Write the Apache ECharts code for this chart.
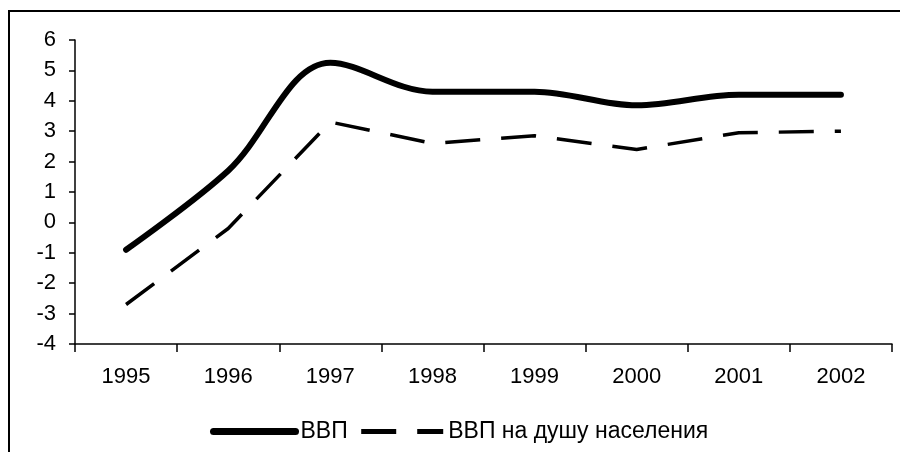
<!DOCTYPE html>
<html>
<head>
<meta charset="utf-8">
<script src="https://cdn.jsdelivr.net/npm/echarts@6/dist/echarts.min.js"></script>
<style>
  html, body { margin: 0; padding: 0; background: #fff; }
  #chart { width: 900px; height: 452px; }
</style>
</head>
<body>
<div id="chart"></div>
<script>
// годы
const years = ['1995', '1996', '1997', '1998', '1999', '2000', '2001', '2002'];
// ВВП, % к предыдущему году
const gdp = [-0.9, 1.7, 5.25, 4.3, 4.3, 3.85, 4.2, 4.2];
// ВВП на душу населения
const gdpPerCapita = [-2.7, -0.2, 3.3, 2.6, 2.85, 2.4, 2.95, 3.0];

const names = ['ВВП', 'ВВП на душу населения'];
const font = 'Liberation Sans, Arial, sans-serif';
const dash = [35, 21];

let myChart = echarts.init(document.getElementById('chart'));

let option = {
    animation: false,
    backgroundColor: '#fff',
    graphic: [{
        type: 'rect',
        shape: { x: 9, y: 11, width: 920, height: 500 },
        style: { fill: 'none', stroke: '#000', lineWidth: 2 }
    }],
    grid: {
        left: 75,
        right: 8,
        top: 40,
        bottom: 108
    },
    legend: {
        left: 205,
        top: 415,
        itemWidth: 82,
        itemHeight: 20,
        itemGap: 11,
        itemStyle: { opacity: 0 },
        textStyle: { fontFamily: font, fontSize: 23, color: '#000' },
        data: [{
            name: names[0],
            lineStyle: { color: '#000', width: 7, cap: 'round' }
        }, {
            name: names[1],
            lineStyle: { color: '#000', width: 5, type: dash }
        }]
    },
    xAxis: {
        type: 'category',
        data: years,
        boundaryGap: true,
        axisLine: { onZero: false, lineStyle: { color: '#000', width: 1.5 } },
        axisTick: { show: true, length: 8, lineStyle: { color: '#000', width: 1.5 } },
        axisLabel: { color: '#000', fontFamily: font, fontSize: 22, margin: 22 },
        splitLine: { show: false }
    },
    yAxis: {
        type: 'value',
        min: -4,
        max: 6,
        interval: 1,
        axisLine: { show: true, lineStyle: { color: '#000', width: 1.5 } },
        axisTick: { show: true, length: 6, lineStyle: { color: '#000', width: 1.5 } },
        axisLabel: { color: '#000', fontFamily: font, fontSize: 22, margin: 19 },
        splitLine: { show: false }
    },
    series: [{
        name: names[0],
        type: 'line',
        data: gdp,
        smooth: 0.35,
        symbol: 'none',
        lineStyle: { color: '#000', width: 6, cap: 'round' },
        itemStyle: { color: '#000' }
    }, {
        name: names[1],
        type: 'line',
        data: gdpPerCapita,
        symbol: 'none',
        lineStyle: { color: '#000', width: 3.5, type: dash },
        itemStyle: { color: '#000' }
    }]
};
myChart.setOption(option);
</script>
</body>
</html>
